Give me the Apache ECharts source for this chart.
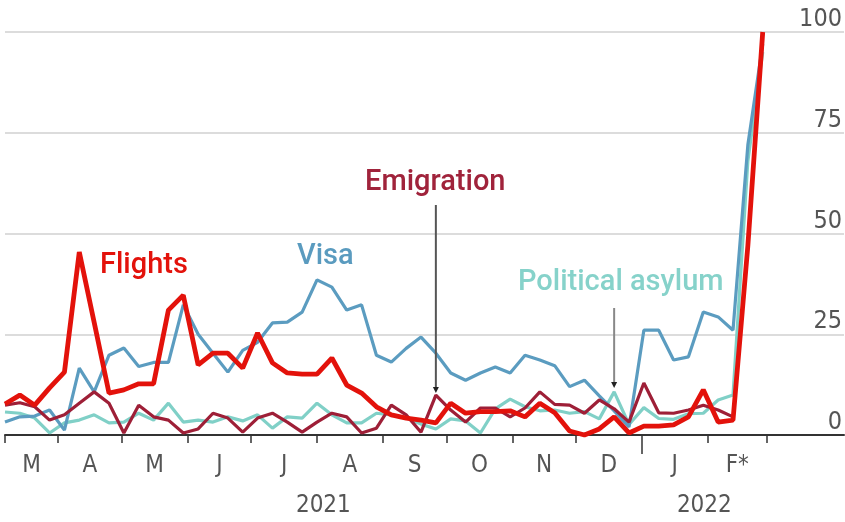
<!DOCTYPE html>
<html>
<head>
<meta charset="utf-8">
<script src="https://cdn.jsdelivr.net/npm/echarts@6/dist/echarts.min.js"></script>
<style>
html,body{margin:0;padding:0;background:#fff;}
#c{width:845px;height:522px;}
</style>
</head>
<body>
<div id="c"></div>
<script>
// ---- data ----
const weeks = ['2021-03-07','2021-03-14','2021-03-21','2021-03-28','2021-04-04','2021-04-11','2021-04-18','2021-04-25',
  '2021-05-02','2021-05-09','2021-05-16','2021-05-23','2021-05-30','2021-06-06','2021-06-13','2021-06-20','2021-06-27',
  '2021-07-04','2021-07-11','2021-07-18','2021-07-25','2021-08-01','2021-08-08','2021-08-15','2021-08-22','2021-08-29',
  '2021-09-05','2021-09-12','2021-09-19','2021-09-26','2021-10-03','2021-10-10','2021-10-17','2021-10-24','2021-10-31',
  '2021-11-07','2021-11-14','2021-11-21','2021-11-28','2021-12-05','2021-12-12','2021-12-19','2021-12-26',
  '2022-01-02','2022-01-09','2022-01-16','2022-01-23','2022-01-30','2022-02-06','2022-02-13','2022-02-20','2022-02-27'];
const flights = [7.7,9.9,7.4,11.7,15.6,45.4,28,10.4,11.2,12.7,12.7,31,34.7,17.4,20.3,20.3,16.6,25.3,17.9,15.4,15.1,15.1,19.1,12.4,10.4,7,5,4.2,
  3.7,3,7.9,5.4,5.8,5.8,6,4.5,7.9,5.5,1,0,1.5,4.5,0.5,2.2,2.2,2.5,4.5,11.2,3.2,3.7,47,100];
const visa = [3.2,4.5,4.7,6.2,1.2,16.6,10.7,19.8,21.6,17,18,18,32.3,25,20.3,15.6,21,23,27.8,28,30.5,38.5,36.7,31,32.3,19.8,18.1,21.5,
  24.3,20.3,15.4,13.6,15.4,16.9,15.4,19.8,18.6,17.2,12,13.6,9.7,6,2,26,26,18.6,19.4,30.5,29.3,26,72,97];
const emigration = [7.4,8,7,3.7,5,7.9,10.7,7.9,0.5,7.4,4.5,3.7,0.5,1.5,5.4,4.2,0.7,4.2,5.4,3.2,0.7,3.2,5.4,4.5,0.5,1.7,7.4,5,
  0.7,9.9,6.2,3.2,6.7,6.7,4.5,6.7,10.7,7.6,7.4,5.4,8.7,6.5,3.2,12.9,5.5,5.4,6.2,7.4,6.2,4.5];
const asylum = [5.7,5.4,4.2,0.5,3,3.7,5,3,3.2,5.4,3.7,7.9,3.2,3.7,3.2,4.5,3.5,5,1.7,4.5,4.2,7.9,5,3,3,5.4,5,4.2,
  2.7,1.5,4,3.5,0.5,6.5,8.9,7,6,6.2,5.4,5.8,4,10.7,2.6,6.8,4.1,3.9,5.3,5.4,8.7,9.9,68,95];
const monthStarts = ['2021-04-01','2021-05-01','2021-06-01','2021-07-01','2021-08-01','2021-09-01','2021-10-01',
  '2021-11-01','2021-12-01','2022-01-01','2022-02-01','2022-03-01'];
const monthLabels = ['M','A','M','J','J','A','S','O','N','D','J','F*'];
const yearLabels = ['2021','2022'];
const yearStart = '2022-01-01';
const yTicks = [0,25,50,75,100];

// ---- helpers ----
const origin = Date.parse('2021-03-01');
const day = s => (Date.parse(s) - origin) / 864e5;
const xMin = day(weeks[0]);
const xMax = xMin + 840 / 2.125;
const bounds = [xMin].concat(monthStarts.map(day));
const monthCenters = monthLabels.map((_, i) => (bounds[i] + bounds[i + 1]) / 2);
const yb = day(yearStart), ye = day(monthStarts[monthStarts.length - 1]);
const yearCenters = [(xMin + yb) / 2, (yb + ye) / 2];
const nearest = (arr, v) => { let b = 0; arr.forEach((a, i) => { if (Math.abs(a - v) < Math.abs(arr[b] - v)) b = i; }); return b; };
const pts = arr => arr.map((v, i) => [day(weeks[i]), v]);

const axisFont = "'Liberation Sans Narrow','DejaVu Sans Condensed',sans-serif";
const noteFont = "Roboto,'Liberation Sans',sans-serif";

const C = { flights:'#e3120b', visa:'#5b9cc0', emig:'#9e1f37', asylum:'#80d0c7' };

const chart = echarts.init(document.getElementById('c'), null, { renderer: 'canvas' });
chart.setOption({
  animation: false,
  backgroundColor: '#fff',
  grid: { left: 5, right: 0, top: 32, bottom: 87, containLabel: false },
  xAxis: [
    {
      type: 'value', min: xMin, max: xMax,
      axisLine: { show: true, lineStyle: { color: '#333', width: 2 } },
      axisTick: { show: true, length: 8, customValues: bounds, lineStyle: { color: '#333', width: 1.5 } },
      splitLine: { show: false },
      axisLabel: {
        customValues: monthCenters, margin: 19,
        fontFamily: axisFont, fontSize: 24, color: '#555',
        formatter: v => monthLabels[nearest(monthCenters, v)]
      }
    },
    {
      type: 'value', min: xMin, max: xMax, position: 'bottom',
      axisLine: { show: false },
      axisTick: { show: true, length: 19, customValues: [yb], lineStyle: { color: '#333', width: 1.5 } },
      splitLine: { show: false },
      axisLabel: {
        customValues: yearCenters, margin: 59,
        fontFamily: axisFont, fontSize: 24, color: '#555',
        formatter: v => yearLabels[nearest(yearCenters, v)]
      }
    }
  ],
  yAxis: {
    type: 'value', min: yTicks[0], max: yTicks[yTicks.length - 1], interval: 25, position: 'right',
    axisLine: { show: false }, axisTick: { show: false },
    splitLine: { show: true, lineStyle: { color: '#dcdcdc', width: 2 } },
    axisLabel: {
      inside: true, align: 'right', verticalAlign: 'bottom', margin: 2,
      fontFamily: axisFont, fontSize: 25, color: '#555'
    }
  },
  series: [
    { name: 'Political asylum', type: 'line', data: pts(asylum), showSymbol: false, clip: false,
      lineStyle: { color: C.asylum, width: 3.2 }, z: 2 },
    { name: 'Visa', type: 'line', data: pts(visa), showSymbol: false, clip: false,
      lineStyle: { color: C.visa, width: 3.2 }, z: 3 },
    { name: 'Emigration', type: 'line', data: pts(emigration), showSymbol: false, clip: false,
      lineStyle: { color: C.emig, width: 3.2 }, z: 4 },
    { name: 'Flights', type: 'line', data: pts(flights), showSymbol: false, clip: false,
      lineStyle: { color: C.flights, width: 4.8 }, z: 5 }
  ]
});

// annotations
const pE = chart.convertToPixel({ xAxisIndex: 0, yAxisIndex: 0 }, [day(weeks[29]), emigration[29]]);
const pA = chart.convertToPixel({ xAxisIndex: 0, yAxisIndex: 0 }, [day(weeks[41]), asylum[41]]);
const arrow = (x, y1, y2, color) => [
  { type: 'line', shape: { x1: x, y1: y1, x2: x, y2: y2 - 5 }, style: { stroke: color, lineWidth: 2 }, z: 10 },
  { type: 'polygon', shape: { points: [[x - 3, y2 - 6], [x + 3, y2 - 6], [x, y2]] }, style: { fill: '#222' }, z: 10 }
];
const txt = (t, x, y, color) => ({ type: 'text', x: x, y: y, z: 10,
  style: { text: t, fill: color, font: '500 29px ' + noteFont, verticalAlign: 'middle', align: 'left' } });
chart.setOption({
  graphic: [
    txt('Flights', 100, 266, C.flights),
    txt('Visa', 297, 257, '#5a9bbf'),
    txt('Emigration', 365, 183, '#a0233b'),
    txt('Political asylum', 518, 283, '#86d2ca'),
    ...arrow(pE[0], 205, pE[1] - 2, '#555'),
    ...arrow(pA[0], 308, pA[1] - 4, '#888')
  ]
});
</script>
</body>
</html>
